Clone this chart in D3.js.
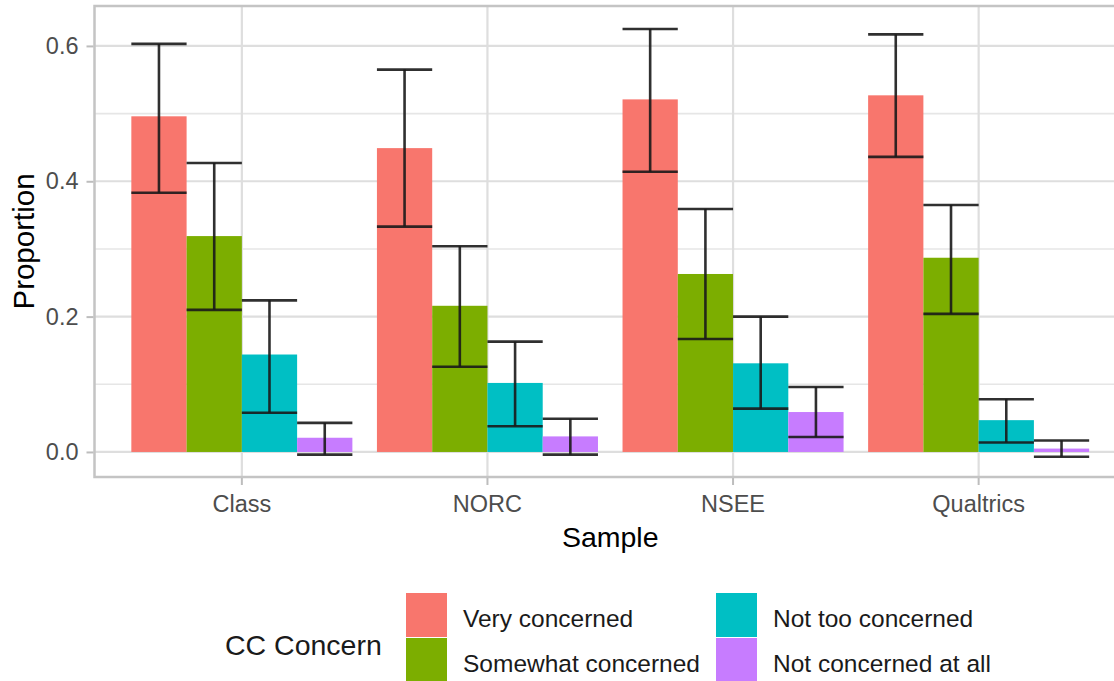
<!DOCTYPE html>
<html>
<head>
<meta charset="utf-8">
<script src="https://cdn.jsdelivr.net/npm/d3@7"></script>
<style>
  html, body { margin: 0; padding: 0; background: #fff; }
  svg { display: block; font-family: "Liberation Sans", Arial, sans-serif; }
</style>
</head>
<body>
<svg id="chart" width="1114" height="681"></svg>
<script>
// Samples on the x axis
const categories = ["Class", "NORC", "NSEE", "Qualtrics"];
// Levels of concern (fill groups)
const series = ["Very concerned", "Somewhat concerned", "Not too concerned", "Not concerned at all"];
const seriesColors = ["#F8766D", "#7CAE00", "#00BFC4", "#C77CFF"];

// Estimated proportions per sample, one array per concern level
const veryConcerned     = [0.496, 0.449, 0.521, 0.527];
const somewhatConcerned = [0.319, 0.216, 0.263, 0.287];
const notTooConcerned   = [0.144, 0.102, 0.131, 0.047];
const notConcernedAtAll = [0.021, 0.023, 0.059, 0.005];

// Lower / upper confidence bounds
const veryLower     = [0.383, 0.333, 0.414, 0.436];
const veryUpper     = [0.603, 0.565, 0.625, 0.617];
const somewhatLower = [0.210, 0.126, 0.167, 0.204];
const somewhatUpper = [0.427, 0.304, 0.359, 0.365];
const notTooLower   = [0.058, 0.038, 0.064, 0.014];
const notTooUpper   = [0.224, 0.163, 0.200, 0.078];
const notAtAllLower = [-0.004, -0.004, 0.022, -0.007];
const notAtAllUpper = [0.043, 0.049, 0.096, 0.017];

const yTickValues = [0.0, 0.2, 0.4, 0.6];
const yMinorValues = [0.1, 0.3, 0.5];

const values = [veryConcerned, somewhatConcerned, notTooConcerned, notConcernedAtAll];
const lowers = [veryLower, somewhatLower, notTooLower, notAtAllLower];
const uppers = [veryUpper, somewhatUpper, notTooUpper, notAtAllUpper];

const rows = [];
series.forEach((s, si) => {
  categories.forEach((c, ci) => {
    rows.push({ cat: c, series: s, value: values[si][ci], lo: lowers[si][ci], hi: uppers[si][ci] });
  });
});

const svg = d3.select("#chart");
svg.append("rect").attr("width", 1114).attr("height", 681).attr("fill", "#fff");

// Panel geometry (the panel runs past the right edge of the canvas)
const panel = { left: 94.5, top: 6, right: 1126, bottom: 477 };

const x = d3.scaleBand()
  .domain(categories)
  .range([panel.left, panel.right])
  .paddingInner(0)
  .paddingOuter(0.1);

const step = x.step();
const dodge = d3.scaleBand()
  .domain(series)
  .range([-0.45 * step, 0.45 * step]);

const y = d3.scaleLinear()
  .domain([-0.037, 0.659])
  .range([panel.bottom, panel.top]);

const color = d3.scaleOrdinal().domain(series).range(seriesColors);

const clipId = "panel-clip";
svg.append("clipPath").attr("id", clipId)
  .append("rect")
  .attr("x", panel.left).attr("y", panel.top)
  .attr("width", panel.right - panel.left).attr("height", panel.bottom - panel.top);

const g = svg.append("g").attr("clip-path", `url(#${clipId})`);

// Minor horizontal grid
g.selectAll("line.minor").data(yMinorValues).join("line")
  .attr("class", "minor")
  .attr("x1", panel.left).attr("x2", panel.right)
  .attr("y1", d => y(d)).attr("y2", d => y(d))
  .attr("stroke", "#E6E6E6").attr("stroke-width", 1.6);

// Major horizontal grid
g.selectAll("line.major").data(yTickValues).join("line")
  .attr("class", "major")
  .attr("x1", panel.left).attr("x2", panel.right)
  .attr("y1", d => y(d)).attr("y2", d => y(d))
  .attr("stroke", "#DEDEDE").attr("stroke-width", 2.2);

// Vertical grid at each sample
g.selectAll("line.vgrid").data(categories).join("line")
  .attr("class", "vgrid")
  .attr("x1", d => x(d) + x.bandwidth() / 2).attr("x2", d => x(d) + x.bandwidth() / 2)
  .attr("y1", panel.top).attr("y2", panel.bottom)
  .attr("stroke", "#DEDEDE").attr("stroke-width", 2.2);

const cx = d => x(d.cat) + x.bandwidth() / 2 + dodge(d.series);

// Bars
g.selectAll("rect.bar").data(rows).join("rect")
  .attr("class", "bar")
  .attr("x", d => cx(d))
  .attr("width", dodge.bandwidth())
  .attr("y", d => y(Math.max(0, d.value)))
  .attr("height", d => Math.abs(y(0) - y(d.value)))
  .attr("fill", d => color(d.series));

// Error bars
const eb = g.selectAll("g.err").data(rows).join("g").attr("class", "err")
  .attr("stroke", "#1a1a1a").attr("stroke-width", 2.6).attr("stroke-opacity", 0.9);
eb.append("line")
  .attr("x1", d => cx(d) + dodge.bandwidth() / 2).attr("x2", d => cx(d) + dodge.bandwidth() / 2)
  .attr("y1", d => y(d.lo)).attr("y2", d => y(d.hi));
eb.append("line")
  .attr("x1", d => cx(d)).attr("x2", d => cx(d) + dodge.bandwidth())
  .attr("y1", d => y(d.hi)).attr("y2", d => y(d.hi));
eb.append("line")
  .attr("x1", d => cx(d)).attr("x2", d => cx(d) + dodge.bandwidth())
  .attr("y1", d => y(d.lo)).attr("y2", d => y(d.lo));

// Panel border
svg.append("rect")
  .attr("x", panel.left).attr("y", panel.top)
  .attr("width", panel.right - panel.left).attr("height", panel.bottom - panel.top)
  .attr("fill", "none").attr("stroke", "#C4C4C4").attr("stroke-width", 2.5);

// Axes
const yAxis = svg.append("g")
  .attr("transform", `translate(${panel.left - 1},0)`)
  .call(d3.axisLeft(y).tickValues(yTickValues).tickFormat(d3.format(".1f")).tickSize(7).tickPadding(8));
const xAxis = svg.append("g")
  .attr("transform", `translate(0,${panel.bottom + 1})`)
  .call(d3.axisBottom(x).tickSize(7).tickPadding(10));

[yAxis, xAxis].forEach(a => {
  a.select(".domain").remove();
  a.selectAll(".tick line").attr("stroke", "#BDBDBD").attr("stroke-width", 2);
  a.selectAll(".tick text")
    .attr("fill", "#4D4D4D")
    .style("font-size", "23.5px")
    .style("font-family", "'Liberation Sans', Arial, sans-serif");
});

// Axis titles
svg.append("text")
  .attr("x", (panel.left + panel.right) / 2).attr("y", 547)
  .attr("text-anchor", "middle")
  .style("font-size", "28.5px").attr("fill", "#000")
  .text("Sample");

svg.append("text")
  .attr("transform", `translate(34,${(panel.top + panel.bottom) / 2}) rotate(-90)`)
  .attr("text-anchor", "middle")
  .style("font-size", "29.5px").attr("fill", "#000")
  .text("Proportion");

// Legend
const legend = svg.append("g");
legend.append("text")
  .attr("x", 225).attr("y", 655)
  .style("font-size", "28.5px").attr("fill", "#1a1a1a")
  .text("CC Concern");

const keyW = 41, keyH = 44;
const keyCols = [406, 716];
const keyRows = [593, 638];
series.forEach((s, i) => {
  const col = Math.floor(i / 2), row = i % 2;
  const kx = keyCols[col], ky = keyRows[row];
  legend.append("rect")
    .attr("x", kx).attr("y", ky)
    .attr("width", keyW).attr("height", keyH)
    .attr("fill", color(s));
  legend.append("text")
    .attr("x", kx + keyW + 16).attr("y", ky + keyH / 2 + 12)
    .style("font-size", "24.5px").attr("fill", "#1a1a1a")
    .text(s);
});
</script>
</body>
</html>
